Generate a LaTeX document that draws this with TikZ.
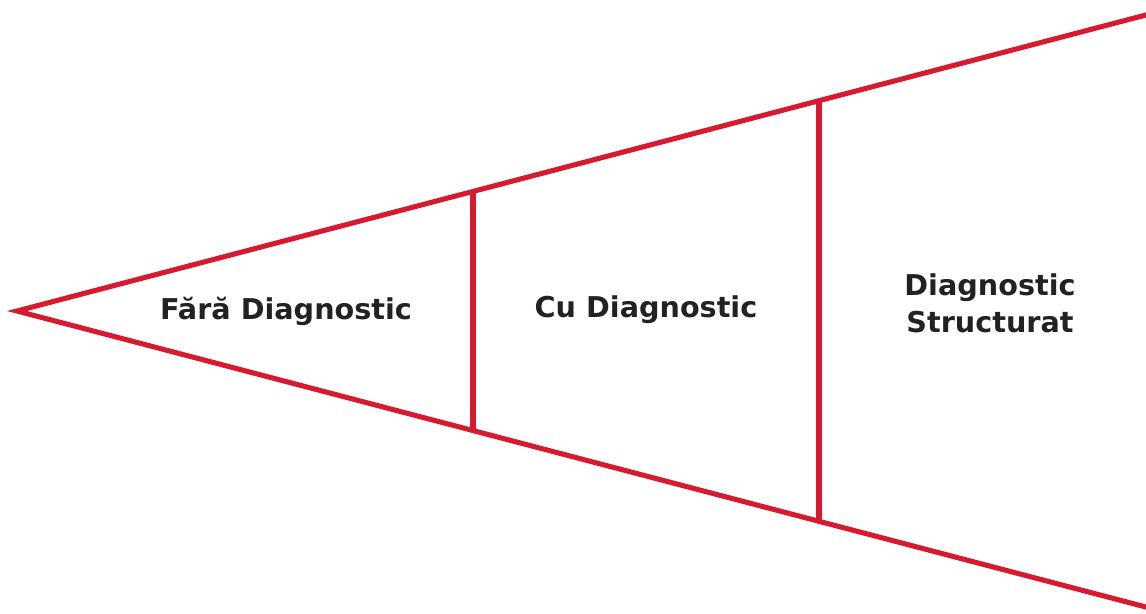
\documentclass[tikz,border=0pt]{standalone}
\usepackage{fontspec}
\setmainfont{DejaVu Sans}
\usepackage{tikz}
\usetikzlibrary{positioning, calc}
\definecolor{funnelred}{HTML}{D71A2F}
\definecolor{stageink}{HTML}{222222}

\begin{document}
\begin{tikzpicture}[x=0.75pt, y=-0.75pt,
  funnel/.style={draw=funnelred, line width=3.8pt, line join=miter, miter limit=20},
  divider/.style={draw=funnelred, line width=3.8pt},
  stagetext/.style={font=\fontsize{21.5}{27.8}\selectfont\bfseries, text=stageink, align=center, inner sep=0pt},
]
\useasboundingbox (0,0) rectangle (1146,614);

% Funnel outline
\coordinate (apex)   at (17,311);
\coordinate (topend) at (1205,-0.5);
\coordinate (botend) at (1205,622.5);
\coordinate (t1) at (473,191);
\coordinate (b1) at (473,431);
\coordinate (t2) at (819,101);
\coordinate (b2) at (819,521);
\draw[funnel] (topend) -- (apex) -- (botend);

% Stage dividers
\draw[divider] (t1) -- (b1);
\draw[divider] (t2) -- (b2);

% Stages
\node[stagetext, anchor=base] (none)  at (286,319) {Fără Diagnostic};
\node[stagetext, anchor=base] (basic) at (646,317) {Cu Diagnostic};
\node[stagetext] (struct) at (990,303) {Diagnostic\\Structurat};

\end{tikzpicture}
\end{document}
